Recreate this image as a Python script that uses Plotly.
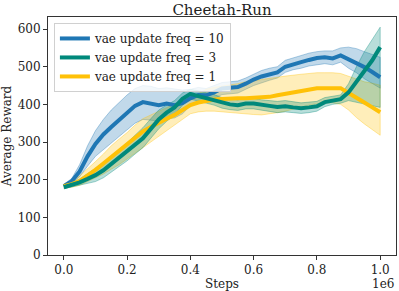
import plotly.graph_objects as go

steps = [i * 25000 for i in range(41)]

# vae update freq = 10
blue_mean = [183, 196, 222, 262, 295, 320, 340, 358, 378, 396, 406, 402, 398, 402, 398, 403,
             416, 425, 424, 432, 442, 444, 446, 455, 466, 474, 479, 485, 500, 507, 512, 518,
             523, 525, 522, 530, 520, 510, 499, 486, 472]
blue_lo = [180, 190, 208, 236, 262, 280, 298, 315, 332, 350, 360, 358, 356, 362, 364, 375,
           396, 408, 408, 416, 426, 428, 430, 440, 450, 458, 464, 470, 485, 492, 496, 502,
           505, 508, 505, 512, 496, 484, 468, 455, 443]
blue_hi = [188, 203, 240, 290, 330, 360, 385, 405, 425, 442, 450, 448, 442, 444, 440, 438,
           440, 445, 442, 450, 458, 460, 462, 470, 480, 490, 496, 500, 517, 524, 530, 536,
           540, 542, 542, 550, 552, 548, 540, 532, 525]

# vae update freq = 3
teal_mean = [180, 186, 193, 202, 212, 225, 242, 258, 275, 293, 310, 335, 360, 378, 392, 415,
             428, 422, 416, 410, 404, 400, 398, 402, 402, 398, 396, 393, 395, 392, 390, 392,
             395, 406, 411, 414, 432, 460, 487, 517, 552]
teal_lo = [176, 180, 185, 190, 195, 205, 220, 235, 250, 268, 285, 310, 335, 355, 372, 398,
           414, 410, 404, 398, 390, 386, 384, 388, 388, 385, 382, 378, 380, 378, 376, 378,
           382, 394, 400, 403, 410, 405, 400, 396, 392]
teal_hi = [186, 192, 202, 215, 230, 245, 262, 280, 298, 318, 338, 362, 385, 398, 410, 430,
           440, 436, 432, 426, 418, 414, 412, 416, 416, 412, 410, 408, 410, 406, 404, 406,
           408, 418, 422, 425, 455, 500, 540, 572, 605]

# vae update freq = 1
yellow_mean = [183, 188, 196, 210, 226, 243, 260, 275, 293, 312, 328, 340, 352, 362, 372, 385,
               398, 405, 410, 413, 414, 416, 416, 416, 417, 419, 420, 424, 428, 432, 436, 441,
               443, 443, 443, 443, 430, 416, 405, 392, 379]
yellow_lo = [178, 180, 185, 195, 205, 215, 228, 240, 255, 270, 285, 300, 315, 330, 345, 360,
             375, 380, 382, 382, 380, 378, 376, 375, 373, 372, 375, 378, 382, 388, 392, 398,
             402, 404, 404, 400, 385, 365, 348, 332, 318]
yellow_hi = [188, 196, 210, 228, 248, 268, 290, 308, 325, 345, 362, 372, 382, 392, 400, 410,
             420, 428, 440, 445, 448, 452, 455, 460, 462, 466, 470, 472, 475, 478, 480, 482,
             484, 484, 484, 482, 474, 466, 460, 456, 451]

series = [
    ("vae update freq = 10", blue_mean, blue_lo, blue_hi, (31, 119, 180), 1),
    ("vae update freq = 1", yellow_mean, yellow_lo, yellow_hi, (255, 193, 7), 3),
    ("vae update freq = 3", teal_mean, teal_lo, teal_hi, (0, 137, 123), 2),
]

xtick_vals = [0, 200000, 400000, 600000, 800000, 1000000]
xtick_text = ["0.0", "0.2", "0.4", "0.6", "0.8", "1.0"]
ytick_vals = [0, 100, 200, 300, 400, 500, 600]

FONT = "DejaVu Serif"
fig = go.Figure()

for name, mean, lo, hi, (r, g, b), rank in series:
    fig.add_trace(go.Scatter(
        x=steps + steps[::-1], y=hi + lo[::-1], fill="toself", mode="lines",
        fillcolor=f"rgba({r},{g},{b},0.28)",
        line=dict(color=f"rgba({r},{g},{b},0.45)", width=0.8),
        showlegend=False, hoverinfo="skip"))

for name, mean, lo, hi, (r, g, b), rank in series:
    fig.add_trace(go.Scatter(
        x=steps, y=mean, mode="lines", name=name, legendrank=rank,
        line=dict(color=f"rgb({r},{g},{b})", width=4)))

axis_common = dict(showline=True, linecolor="#333", linewidth=1, mirror=True,
                   ticks="outside", ticklen=4, tickwidth=1, tickcolor="#333",
                   showgrid=False, zeroline=False,
                   tickfont=dict(family=FONT, size=12, color="#222"))

fig.update_layout(
    width=399, height=291,
    margin=dict(l=48, r=3, t=17, b=36),
    paper_bgcolor="white", plot_bgcolor="white",
    font=dict(family=FONT, color="#222"),
    title=dict(text="Cheetah-Run", x=0.5, xref="paper", xanchor="center",
               y=0.968, yref="container", yanchor="middle",
               font=dict(family=FONT, size=15, color="#222")),
    xaxis=dict(range=[-50000, 1050000], tickvals=xtick_vals, ticktext=xtick_text,
               title=dict(text="Steps", standoff=3, font=dict(family=FONT, size=12)),
               **axis_common),
    yaxis=dict(range=[0, 632], tickvals=ytick_vals,
               title=dict(text="Average Reward", standoff=4, font=dict(family=FONT, size=12)),
               **axis_common),
    legend=dict(x=0.017, y=0.975, xanchor="left", yanchor="top",
                bgcolor="rgba(255,255,255,0.8)", bordercolor="#d0d0d0", borderwidth=1,
                font=dict(family=FONT, size=12, color="#222"),
                itemwidth=30, tracegroupgap=0),
    annotations=[dict(text="1e6", xref="paper", yref="paper", x=1.0, y=-0.122,
                      xanchor="right", yanchor="middle", showarrow=False,
                      font=dict(family=FONT, size=12, color="#222"))],
)

fig.write_html("out.html", config={"displayModeBar": False},
               post_script="document.body.style.margin='0';document.body.style.overflow='hidden';")
